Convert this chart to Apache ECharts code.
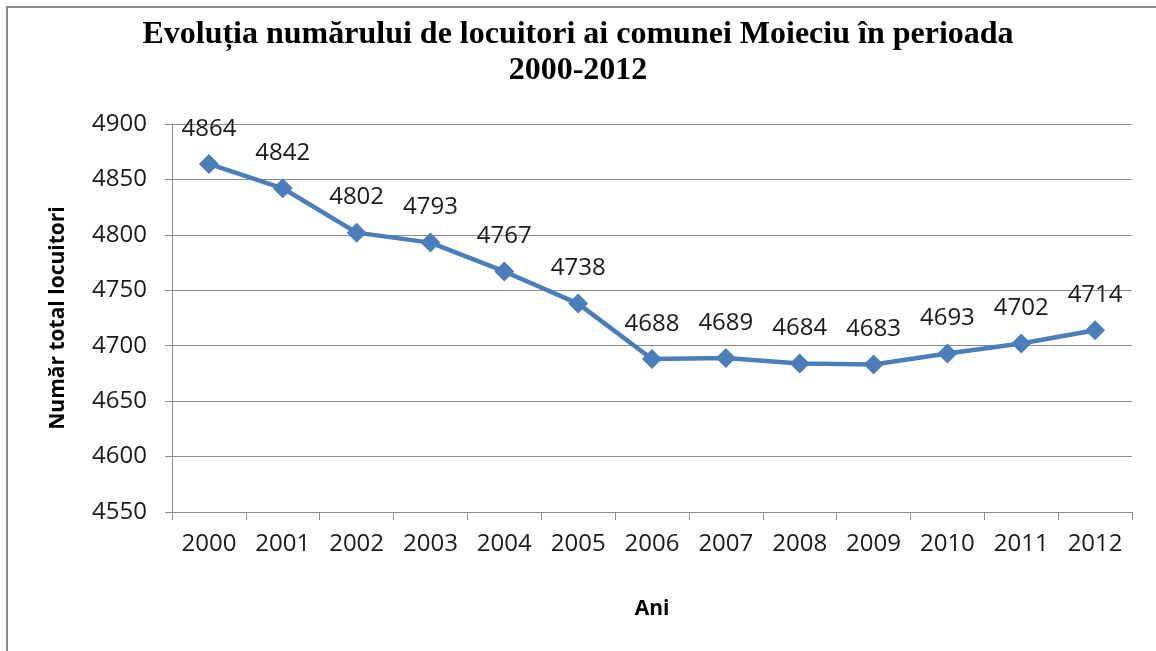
<!DOCTYPE html>
<html>
<head>
<meta charset="utf-8">
<script src="https://cdn.jsdelivr.net/npm/echarts@6/dist/echarts.min.js"></script>
<style>
  html, body { margin: 0; padding: 0; background: #fff; }
  #chart { width: 1156px; height: 651px; }
</style>
</head>
<body>
<div id="chart"></div>
<script>
// date
var ani = ['2000', '2001', '2002', '2003', '2004', '2005', '2006', '2007', '2008', '2009', '2010', '2011', '2012'];
var locuitori = [4864, 4842, 4802, 4793, 4767, 4738, 4688, 4689, 4684, 4683, 4693, 4702, 4714];
var yMin = 4550, yMax = 4900, yStep = 50;

var chart = echarts.init(document.getElementById('chart'));

var option = {
  backgroundColor: '#fff',
  animation: false,
  title: {
    text: 'Evoluția numărului de locuitori ai comunei Moieciu în perioada\n2000-2012',
    left: 'center',
    top: 12,
    textStyle: {
      fontFamily: 'Liberation Serif',
      fontWeight: 'bold',
      fontSize: 32,
      lineHeight: 36,
      color: '#000'
    }
  },
  graphic: [{
    type: 'rect',
    shape: { x: 7, y: 7, width: 1300, height: 800 },
    style: { fill: 'none', stroke: '#8a8a8a', lineWidth: 2 },
    silent: true
  }],
  grid: { left: 172, right: 24, top: 124, bottom: 139 },
  xAxis: {
    type: 'category',
    data: ani,
    boundaryGap: true,
    name: 'Ani',
    nameLocation: 'middle',
    nameGap: 87,
    nameTextStyle: { fontFamily: 'Open Sans', fontWeight: 'bold', fontSize: 21, color: '#000' },
    axisLine: { lineStyle: { color: '#8c8c8c', width: 1 } },
    axisTick: { show: true, length: 8, interval: 0, alignWithLabel: false, lineStyle: { color: '#8c8c8c' } },
    axisLabel: { margin: 20, fontFamily: 'Open Sans', fontSize: 24, color: '#1a1a1a', interval: 0 }
  },
  yAxis: {
    type: 'value',
    min: yMin,
    max: yMax,
    interval: yStep,
    name: 'Număr total locuitori',
    nameLocation: 'middle',
    nameGap: 103,
    nameRotate: 90,
    nameTextStyle: { fontFamily: 'Open Sans', fontWeight: 'bold', fontSize: 21, color: '#000' },
    axisLine: { show: true, lineStyle: { color: '#8c8c8c', width: 1 } },
    axisTick: { show: true, length: 7, lineStyle: { color: '#8c8c8c' } },
    axisLabel: {
      margin: 25,
      fontFamily: 'Open Sans',
      fontSize: 24,
      color: '#1a1a1a',
      formatter: function (v) { return String(v); }
    },
    splitLine: { show: true, lineStyle: { color: '#8c8c8c', width: 1 } }
  },
  series: [{
    type: 'line',
    data: locuitori,
    symbol: 'diamond',
    symbolSize: 20,
    lineStyle: { color: '#4a7ebb', width: 4.5 },
    itemStyle: { color: '#4a7ebb' },
    label: {
      show: true,
      position: 'top',
      distance: 13,
      fontFamily: 'Open Sans',
      fontSize: 24,
      color: '#1a1a1a'
    }
  }]
};

chart.setOption(option);
</script>
</body>
</html>
